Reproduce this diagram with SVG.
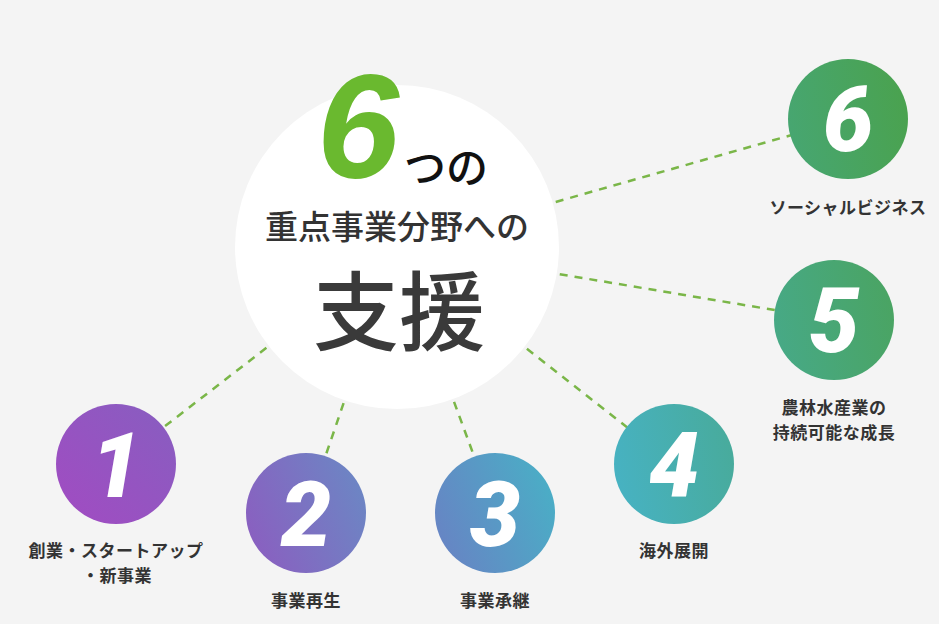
<svg xmlns="http://www.w3.org/2000/svg" width="939" height="624" viewBox="0 0 939 624">
<defs>
<linearGradient id="g1" x1="0" y1="1" x2="1" y2="0"><stop offset="0" stop-color="#a24bc2"/><stop offset="1" stop-color="#875ec0"/></linearGradient>
<linearGradient id="g2" x1="0" y1="0.7" x2="1" y2="0.3"><stop offset="0" stop-color="#8a5fc0"/><stop offset="1" stop-color="#6c86c4"/></linearGradient>
<linearGradient id="g3" x1="0" y1="0.7" x2="1" y2="0.3"><stop offset="0" stop-color="#6784c4"/><stop offset="1" stop-color="#4aaec6"/></linearGradient>
<linearGradient id="g4" x1="0" y1="0.6" x2="1" y2="0.4"><stop offset="0" stop-color="#47b2c2"/><stop offset="1" stop-color="#48ab9c"/></linearGradient>
<linearGradient id="g5" x1="0" y1="0.6" x2="1" y2="0.4"><stop offset="0" stop-color="#47a986"/><stop offset="1" stop-color="#4aa463"/></linearGradient>
<linearGradient id="g6" x1="0" y1="0.6" x2="1" y2="0.4"><stop offset="0" stop-color="#47a671"/><stop offset="1" stop-color="#4aa24f"/></linearGradient>
</defs>
<style>
.con{stroke:#7ab648;stroke-width:2.5;stroke-dasharray:8 7;fill:none}
.num{font-family:Roboto,"Liberation Sans",sans-serif;font-weight:900;font-style:italic;font-size:90px;fill:#ffffff;text-anchor:middle}
.lbl{font-family:"Noto Sans CJK JP",sans-serif;font-weight:700;font-size:17px;fill:#333333;text-anchor:middle;letter-spacing:0.5px}
.jp{font-family:"Noto Sans CJK JP",sans-serif;text-anchor:middle}
</style>
<rect width="939" height="624" fill="#f4f4f4"/>
<g id="connectors">
<line class="con" x1="397" y1="247" x2="116" y2="464"/>
<line class="con" x1="397" y1="247" x2="306" y2="513"/>
<line class="con" x1="397" y1="247" x2="495" y2="513"/>
<line class="con" x1="397" y1="247" x2="674" y2="464"/>
<line class="con" x1="397" y1="247" x2="834" y2="320"/>
<line class="con" x1="397" y1="247" x2="848" y2="119"/>
</g>
<g id="center">
<circle cx="397" cy="247" r="162" fill="#ffffff"/>
<text x="358" y="178" font-family="'Liberation Sans',Arial,sans-serif" font-weight="700" font-style="italic" font-size="148" fill="#6ab92f" text-anchor="middle">6</text>
<text x="446" y="183" class="jp" font-size="42" font-weight="500" fill="#111111">つの</text>
<text x="397" y="239" class="jp" font-size="33" font-weight="500" fill="#333333">重点事業分野への</text>
<text x="399" y="344" class="jp" font-size="86" font-weight="500" fill="#3a3a3a">支援</text>
</g>
<g id="node1">
<circle cx="116" cy="464" r="60" fill="url(#g1)"/>
<text class="num" x="116" y="497">1</text>
<text class="lbl" x="116" y="557">創業・スタートアップ</text>
<text class="lbl" x="117" y="582">・新事業</text>
</g>
<g id="node2">
<circle cx="306" cy="513" r="60" fill="url(#g2)"/>
<text class="num" x="306" y="546">2</text>
<text class="lbl" x="306" y="607">事業再生</text>
</g>
<g id="node3">
<circle cx="495" cy="513" r="60" fill="url(#g3)"/>
<text class="num" x="495" y="546">3</text>
<text class="lbl" x="495" y="607">事業承継</text>
</g>
<g id="node4">
<circle cx="674" cy="464" r="60" fill="url(#g4)"/>
<text class="num" x="674" y="497">4</text>
<text class="lbl" x="674" y="557">海外展開</text>
</g>
<g id="node5">
<circle cx="834" cy="320" r="60" fill="url(#g5)"/>
<text class="num" x="834" y="352">5</text>
<text class="lbl" x="834" y="414">農林水産業の</text>
<text class="lbl" x="834" y="439">持続可能な成長</text>
</g>
<g id="node6">
<circle cx="848" cy="119" r="60" fill="url(#g6)"/>
<text class="num" x="848" y="151">6</text>
<text class="lbl" x="848" y="214">ソーシャルビジネス</text>
</g>
</svg>
